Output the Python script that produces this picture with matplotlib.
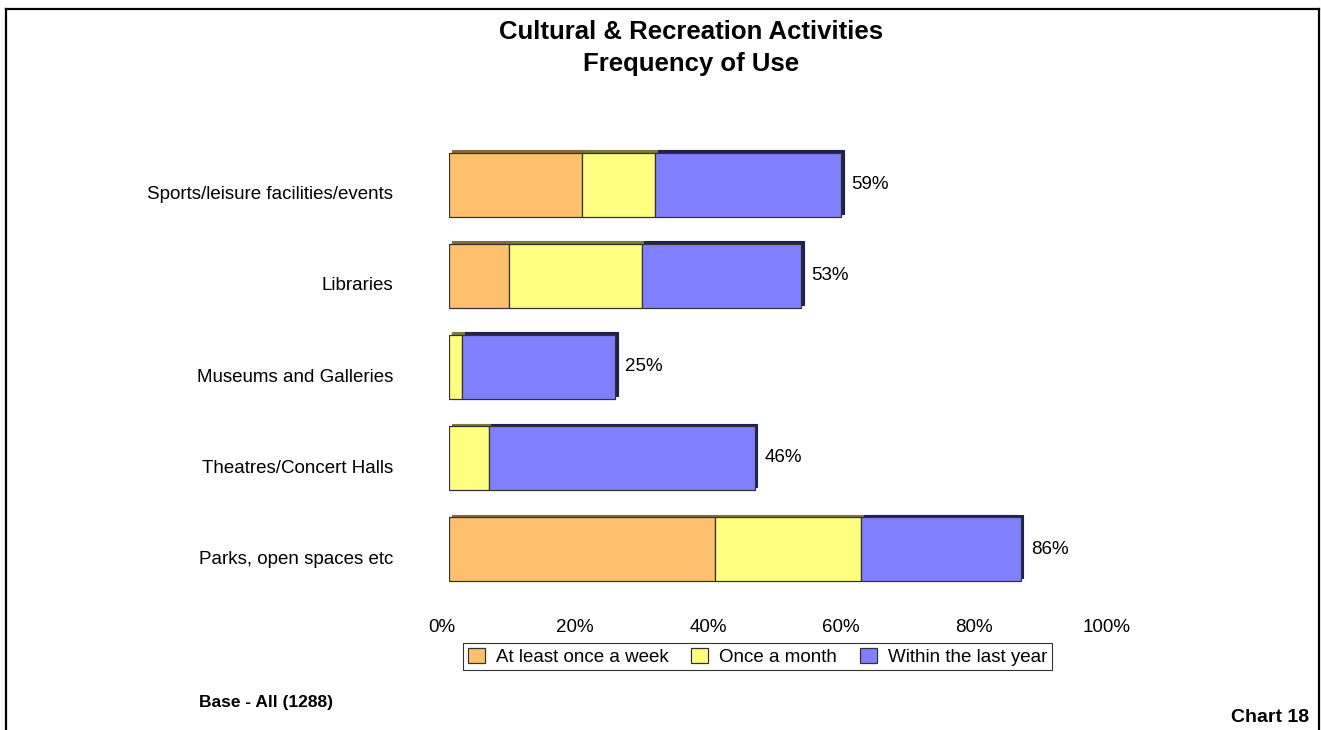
import matplotlib.pyplot as plt
import matplotlib.transforms as mtransforms
from matplotlib.lines import Line2D
import numpy as np

plt.rcParams['font.family'] = ['Liberation Sans', 'DejaVu Sans']

categories = ["Sports/leisure facilities/events", "Libraries", "Museums and Galleries",
              "Theatres/Concert Halls", "Parks, open spaces etc"]
weekly = [20, 9, 0, 0, 40]
monthly = [11, 20, 2, 6, 22]
yearly = [28, 24, 23, 40, 24]
totals = [59, 53, 25, 46, 86]
series_names = ["At least once a week", "Once a month", "Within the last year"]
colors = ["#FFC06E", "#FFFF80", "#8080FF"]
depth_colors = ["#8a6a3a", "#7a7a3a", "#202050"]
xticks = [0, 20, 40, 60, 80, 100]

fig = plt.figure(figsize=(13.21, 7.3), dpi=100)
ax = fig.add_axes([449 / 1321, 1 - 590 / 730, 665 / 1321, 460 / 730])

y = np.arange(len(categories))
series = [weekly, monthly, yearly]
left = np.zeros(len(categories))

# shifted darker copy gives the bars a little 3D depth
shift = mtransforms.offset_copy(ax.transData, fig=fig, x=2.5, y=2.5, units='dots')
for vals, dc in zip(series, depth_colors):
    ax.barh(y, vals, left=left, height=0.7, color=dc, edgecolor=dc,
            linewidth=0.8, transform=shift, zorder=1)
    left += np.array(vals)

left = np.zeros(len(categories))
for vals, name, c in zip(series, series_names, colors):
    ax.barh(y, vals, left=left, height=0.7, color=c, edgecolor='#333333',
            linewidth=0.9, label=name, zorder=2)
    left += np.array(vals)

for yi, t in zip(y, totals):
    ax.text(t + 1.5, yi, f"{t}%", va='center', ha='left', fontsize=13.5)

ax.set_xlim(0, 100)
ax.set_ylim(len(categories) - 0.55, -0.6)
# category labels sit a touch below the bar centres
ax.set_yticks(y + 0.09)
ax.set_yticklabels(categories, fontsize=13.5)
ax.set_xticks(xticks)
ax.set_xticklabels([f"{v}%" for v in xticks], fontsize=13.5)
ax.tick_params(axis='both', length=0)
ax.tick_params(axis='y', pad=40)
ax.tick_params(axis='x', pad=21)
nudge = mtransforms.ScaledTranslation(-7 / 100, 0, fig.dpi_scale_trans)
for lab in ax.get_xticklabels():
    lab.set_transform(lab.get_transform() + nudge)
for s in ax.spines.values():
    s.set_visible(False)

leg = ax.legend(loc='upper center', bbox_to_anchor=(0.464, -0.115), ncol=3,
                fontsize=13.5, frameon=True, fancybox=False, edgecolor='black',
                handlelength=0.9, handleheight=0.85, handletextpad=0.6,
                columnspacing=1.2, borderpad=0.25, borderaxespad=0)
leg.get_frame().set_linewidth(0.8)

fig.text(691 / 1321, 1 - 32 / 730, "Cultural & Recreation Activities",
         ha='center', va='center', fontsize=18.5, fontweight='bold')
fig.text(691 / 1321, 1 - 64 / 730, "Frequency of Use",
         ha='center', va='center', fontsize=18.5, fontweight='bold')
fig.text(199 / 1321, 1 - 703 / 730, "Base - All (1288)", ha='left', va='center',
         fontsize=12.5, fontweight='bold')
fig.text(1309 / 1321, 1 - 717 / 730, "Chart 18", ha='right', va='center',
         fontsize=14, fontweight='bold')

# page frame: top, left and right edges
for xs, ys in [([5.5, 1318.5], [8.5, 8.5]), ([5.5, 5.5], [8.5, 730]),
               ([1318.5, 1318.5], [8.5, 730])]:
    fig.add_artist(Line2D([x / 1321 for x in xs], [1 - v / 730 for v in ys],
                          color='black', linewidth=1.6))

plt.savefig('out.png', dpi=100)
